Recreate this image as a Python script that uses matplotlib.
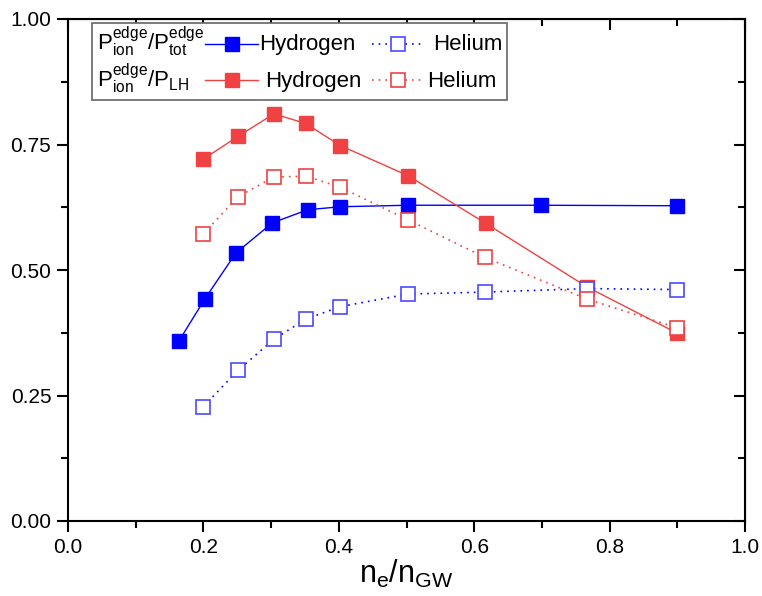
import numpy as np
import matplotlib.pyplot as plt
from matplotlib.lines import Line2D
from matplotlib.patches import Rectangle
from matplotlib.ticker import MultipleLocator

plt.rcParams['font.family'] = ['Liberation Sans', 'DejaVu Sans']
plt.rcParams['mathtext.fontset'] = 'custom'
plt.rcParams['mathtext.rm'] = 'Liberation Sans'
plt.rcParams['mathtext.it'] = 'Liberation Sans'

# P_ion^edge / P_tot^edge
x_tot_h = [0.164, 0.202, 0.248, 0.302, 0.354, 0.402, 0.502, 0.699, 0.900]
y_tot_h = [0.359, 0.442, 0.534, 0.594, 0.620, 0.626, 0.629, 0.629, 0.628]
x_tot_he = [0.200, 0.251, 0.304, 0.351, 0.402, 0.502, 0.616, 0.767, 0.900]
y_tot_he = [0.228, 0.300, 0.362, 0.402, 0.427, 0.452, 0.456, 0.463, 0.461]

# P_ion^edge / P_LH
x_lh_h = [0.200, 0.251, 0.304, 0.351, 0.402, 0.502, 0.617, 0.767, 0.900]
y_lh_h = [0.721, 0.766, 0.811, 0.792, 0.748, 0.688, 0.593, 0.466, 0.374]
x_lh_he = [0.200, 0.251, 0.304, 0.351, 0.402, 0.502, 0.616, 0.767, 0.900]
y_lh_he = [0.572, 0.646, 0.685, 0.687, 0.665, 0.600, 0.525, 0.442, 0.385]

row_labels = [r'$\mathregular{P_{ion}^{edge}/P_{tot}^{edge}}$',
              r'$\mathregular{P_{ion}^{edge}/P_{LH}}$']
gas_labels = ['Hydrogen', 'Helium']

BLUE = '#0000ff'
BLUE_OPEN = '#4a4aff'
RED = '#f04242'
W, H = 762, 596

fig = plt.figure(figsize=(7.62, 5.96), dpi=100)
ax = fig.add_axes([68 / W, 1 - 521 / H, 677 / W, 502 / H])

filled = dict(lw=1, marker='s', ms=10.5)
opened = dict(lw=1.2, ls=(0, (1, 3)), marker='s', ms=10, mfc='white', mew=1.2)

ax.plot(x_tot_h, y_tot_h, color=BLUE, mfc=BLUE, mec=BLUE, **filled)
ax.plot(x_lh_h, y_lh_h, color=RED, mfc=RED, mec=RED, **filled)
ax.plot(x_tot_he, y_tot_he, color=BLUE, mec=BLUE_OPEN, **opened)
ax.plot(x_lh_he, y_lh_he, color=RED, mec=RED, **opened)

ax.set_xlim(0, 1)
ax.set_ylim(0, 1)
ax.set_xticks([0, 0.2, 0.4, 0.6, 0.8, 1.0])
ax.set_xticklabels(['0.0', '0.2', '0.4', '0.6', '0.8', '1.0'])
ax.set_yticks([0, 0.25, 0.5, 0.75, 1.0])
ax.set_yticklabels(['0.00', '0.25', '0.50', '0.75', '1.00'])
ax.xaxis.set_minor_locator(MultipleLocator(0.1))
ax.yaxis.set_minor_locator(MultipleLocator(0.125))

ax.tick_params(which='major', direction='out', length=8, width=1.5, labelsize=15, pad=4)
ax.tick_params(which='minor', direction='out', length=5, width=1.5)
for spine in ax.spines.values():
    spine.set_linewidth(1.5)

# inward ticks on top and right
axt = ax.secondary_xaxis('top')
axt.set_xticks([0, 0.2, 0.4, 0.6, 0.8, 1.0])
axt.xaxis.set_minor_locator(MultipleLocator(0.1))
axt.tick_params(which='major', direction='in', length=8, width=1.5, labeltop=False)
axt.tick_params(which='minor', direction='in', length=5, width=1.5)
axr = ax.secondary_yaxis('right')
axr.set_yticks([0, 0.25, 0.5, 0.75, 1.0])
axr.yaxis.set_minor_locator(MultipleLocator(0.125))
axr.tick_params(which='major', direction='in', length=8, width=1.5, labelright=False)
axr.tick_params(which='minor', direction='in', length=5, width=1.5)

ax.set_xlabel(r'$\mathregular{n_e/n_{GW}}$', fontsize=22, labelpad=1)

# legend drawn by hand in figure pixels
def fx(px):
    return px / W

def fy(py):
    return 1 - py / H

fig.patches.append(Rectangle((fx(92), fy(100)), fx(507) - fx(92), fy(23) - fy(100),
                             transform=fig.transFigure, facecolor='white',
                             edgecolor='#666666', lw=1.2, zorder=5))

rows = [(44, 50, BLUE, BLUE_OPEN, 259, 433), (80, 87, RED, RED, 265, 427)]
for (ym, yb, c, c_open, xh, xhe), lab in zip(rows, row_labels):
    fig.text(fx(97), fy(yb), lab, fontsize=16, va='baseline', zorder=6)
    fig.add_artist(Line2D([fx(205), fx(258)], [fy(ym), fy(ym)], color=c, lw=1,
                          transform=fig.transFigure, zorder=6))
    fig.add_artist(Line2D([fx(231.7)], [fy(ym)], color=c, mfc=c, mec=c, marker='s', ms=10.5,
                          ls='none', transform=fig.transFigure, zorder=7))
    fig.text(fx(xh), fy(yb), gas_labels[0], fontsize=16, va='baseline', zorder=6)
    fig.add_artist(Line2D([fx(372), fx(425)], [fy(ym), fy(ym)], color=c, lw=1.2,
                          ls=(0, (1, 3)), transform=fig.transFigure, zorder=6))
    fig.add_artist(Line2D([fx(398.3)], [fy(ym)], color=c, mfc='white', mec=c_open, mew=1.2,
                          marker='s', ms=10, ls='none', transform=fig.transFigure, zorder=7))
    fig.text(fx(xhe), fy(yb), gas_labels[1], fontsize=16, va='baseline', zorder=6)

fig.savefig('out.png', dpi=100)
